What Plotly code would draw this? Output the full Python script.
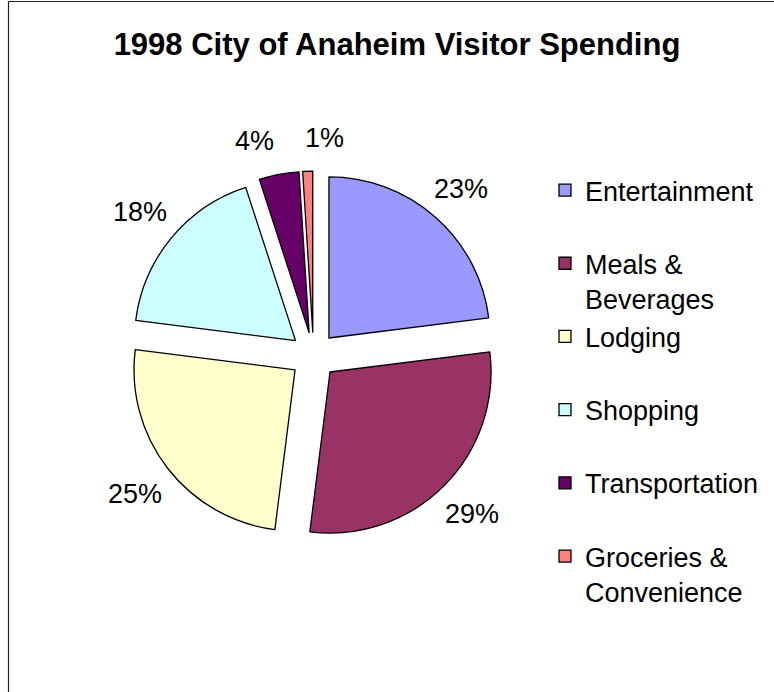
import math
import plotly.graph_objects as go

# 1998 visitor spending shares (percent of total)
categories = ["Entertainment", "Meals &<br>Beverages", "Lodging", "Shopping",
              "Transportation", "Groceries &<br>Convenience"]
shares = [23, 29, 25, 18, 4, 1]
colors = ["#9999FF", "#993366", "#FFFFCC", "#CCFFFF", "#660066", "#FF8080"]

# pad single-line names to two lines so every legend row has the same height
legend_names = [c if "<br>" in c else c + "<br> " for c in categories]

W, H = 774, 692
FONT = "Liberation Sans, Arial, sans-serif"
LABEL_SIZE = 27
PULL = 0.145
DOM_X = [129.1 / W, 497.9 / W]
DOM_Y = [1 - 539.9 / H, 1 - 171.1 / H]

fig = go.Figure(
    go.Pie(
        labels=legend_names,
        values=shares,
        sort=False,
        direction="clockwise",
        rotation=0,
        pull=PULL,
        marker=dict(colors=colors, line=dict(color="black", width=1.3)),
        textinfo="none",
        domain=dict(x=DOM_X, y=DOM_Y),
        hoverinfo="label+percent",
    )
)

# ---- percentage labels placed just outside each exploded slice ----
box_w = W * (DOM_X[1] - DOM_X[0])
box_h = H * (DOM_Y[1] - DOM_Y[0])
cx = W * (DOM_X[0] + DOM_X[1]) / 2
cy = H * (1 - (DOM_Y[0] + DOM_Y[1]) / 2)
radius = min(box_w, box_h) / (2 + 2 * PULL)
outer = radius * (1 + PULL) + 20  # distance from centre to the label box edge

total = sum(shares)
labels = []
start = 0.0
for v in shares:
    frac = v / total
    mid = 2 * math.pi * (start + frac / 2)      # clockwise from 12 o'clock
    start += frac
    ux, uy = math.sin(mid), -math.cos(mid)
    text = f"{round(100 * frac)}%"
    half_w = 0.5 * LABEL_SIZE * (0.556 * (len(text) - 1) + 0.889)
    half_h = 0.5 * LABEL_SIZE
    edge = min(half_w / abs(ux) if abs(ux) > 1e-6 else 1e9,
               half_h / abs(uy) if abs(uy) > 1e-6 else 1e9)
    d = outer + edge
    labels.append([cx + d * ux, cy + d * uy, text])

# spread neighbouring labels that crowd each other near the top of the pie
min_gap = 2.6 * LABEL_SIZE
for i in range(len(labels)):
    a, b = labels[i], labels[(i + 1) % len(labels)]
    if abs(a[1] - b[1]) < LABEL_SIZE and abs(a[0] - b[0]) < min_gap:
        push = (min_gap - abs(a[0] - b[0])) / 2
        if a[0] < b[0]:
            a[0] -= push
            b[0] += push
        else:
            a[0] += push
            b[0] -= push

annotations = [
    dict(x=px / W, y=1 - py / H, xref="paper", yref="paper",
         text=t, showarrow=False, xanchor="center", yanchor="middle",
         font=dict(family=FONT, size=LABEL_SIZE, color="black"))
    for px, py, t in labels
]

fig.update_layout(
    width=W,
    height=H,
    margin=dict(l=0, r=0, t=0, b=0),
    paper_bgcolor="white",
    plot_bgcolor="white",
    title=dict(
        text="<b>1998 City of Anaheim Visitor Spending</b>",
        font=dict(family=FONT, size=31, color="black"),
        x=397 / W, xanchor="center", xref="paper",
        y=1 - 44.5 / H, yanchor="middle", yref="paper",
    ),
    legend=dict(
        x=545 / W, xanchor="left",
        y=1 - 166 / H, yanchor="top",
        valign="top",
        font=dict(family=FONT, size=27, color="black"),
        bgcolor="rgba(0,0,0,0)",
        borderwidth=0,
    ),
    showlegend=True,
    annotations=annotations,
    shapes=[
        # chart frame: left and top edges
        dict(type="line", xref="paper", yref="paper",
             x0=8.5 / W, x1=8.5 / W, y0=0, y1=1 - 1.5 / H,
             line=dict(color="#202020", width=1.2)),
        dict(type="line", xref="paper", yref="paper",
             x0=8.5 / W, x1=1, y0=1 - 1.5 / H, y1=1 - 1.5 / H,
             line=dict(color="#202020", width=1.2)),
    ],
)

fig.write_html("out.html")
